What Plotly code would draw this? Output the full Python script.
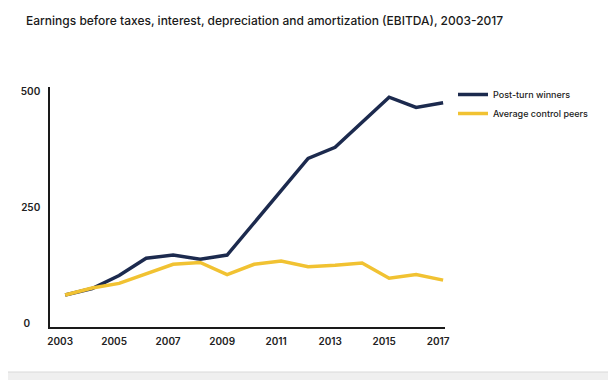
import plotly.graph_objects as go

years = list(range(2003, 2018))
post_turn_winners = [62, 76, 104, 141, 148, 139, 148, 217, 287, 356, 380, 433, 488, 466, 476]
average_control_peers = [62, 77, 87, 108, 128, 132, 106, 128, 135, 123, 126, 131, 98, 106, 94]
x_tick_vals = [2003, 2005, 2007, 2009, 2011, 2013, 2015, 2017]
y_tick_vals = [0, 250, 500]
y_tick_text = ["0\u00a0\u00a0\u00a0\u00a0", "250", "500"]
title_text = "Earnings before taxes, interest, depreciation and amortization (EBITDA), 2003-2017"

NAVY = "#1c2a4e"
GOLD = "#f1c232"
FONT = "Inter, Roboto, 'DejaVu Sans', sans-serif"

OFF = 8  # page body margin
W, H = 616 - OFF, 380 - OFF
# plot area in screen pixels
SL, SR, ST, SB = 50, 445, 87, 327
L, R, T, B = SL - OFF, SR - OFF, ST - OFF, SB - OFF


def px(x):
    return (x - OFF - L) / (R - L)


def py(y):
    return (B - (y - OFF)) / (B - T)


fig = go.Figure()
fig.add_trace(go.Scatter(x=years, y=post_turn_winners, mode="lines", name="Post-turn winners",
                         line=dict(color=NAVY, width=3.5)))
fig.add_trace(go.Scatter(x=years, y=average_control_peers, mode="lines", name="Average control peers",
                         line=dict(color=GOLD, width=3.5)))

fig.update_layout(
    width=W, height=H,
    margin=dict(l=L, r=W - R, t=T, b=H - B, pad=0),
    paper_bgcolor="#efefef",
    plot_bgcolor="rgba(0,0,0,0)",
    font=dict(family=FONT, color="#222222", size=10),
    title=dict(text=title_text, x=(26 - OFF) / W, xanchor="left", y=1 - (21 - OFF) / H, yanchor="middle",
               font=dict(size=12, color="#1a1a1a", family=FONT, weight=500)),
    legend=dict(x=px(453), xanchor="left", y=py(80), yanchor="top",
                font=dict(size=9, color="#222222", weight=500), bgcolor="rgba(0,0,0,0)",
                tracegroupgap=0, itemclick=False),
    shapes=[dict(type="rect", xref="paper", yref="paper", x0=px(-10), x1=px(612), y0=py(372), y1=py(-10),
                 fillcolor="white", line=dict(color="#d9d9d9", width=1), layer="below")],
    showlegend=True,
)
fig.update_xaxes(range=[2002.44, 2017.07], tickvals=x_tick_vals, showgrid=False, zeroline=False,
                 showline=True, linecolor="#1a1a1a", linewidth=1.5, ticks="",
                 tickfont=dict(size=10, color="#222222", weight=600), ticklabelshift=-5, ticklabelstandoff=4)
fig.update_yaxes(range=[-7, 510], tickvals=y_tick_vals, ticktext=y_tick_text, showgrid=False,
                 zeroline=False, showline=True, linecolor="#1a1a1a", linewidth=1.5, ticks="",
                 tickfont=dict(size=10, color="#222222", weight=600), ticklabelstandoff=6)

fig.write_html("out.html")
